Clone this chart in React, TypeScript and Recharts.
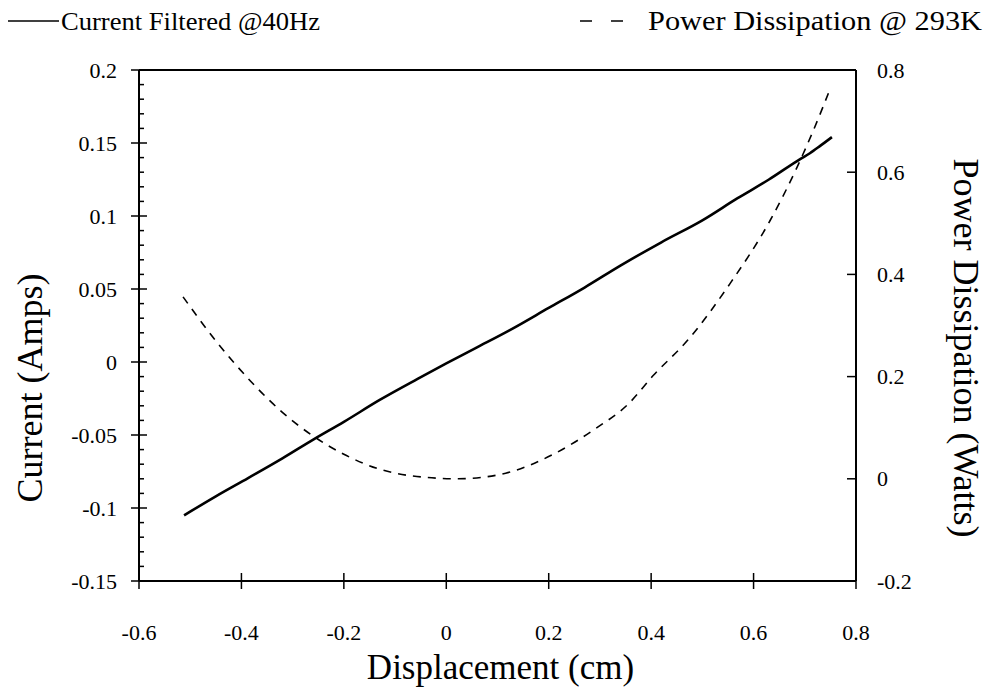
import React from 'react'
import { LineChart, Line, XAxis, YAxis } from 'recharts'

const FONT = '"Liberation Serif", "Times New Roman", serif'
const W = 982
const H = 685

// Current Filtered @40Hz (left axis)
const currentDisp = [-0.512, -0.45, -0.387, -0.32, -0.259, -0.2, -0.13, -0.056, 0, 0.06, 0.125, 0.2, 0.27, 0.34, 0.42, 0.5, 0.568, 0.63, 0.691, 0.71, 0.73, 0.753]
const currentAmps = [-0.105, -0.092, -0.0795, -0.066, -0.053, -0.041, -0.026, -0.0116, -0.001, 0.01, 0.022, 0.037, 0.051, 0.066, 0.082, 0.097, 0.112, 0.125, 0.139, 0.143, 0.148, 0.154]

// Power Dissipation @ 293K (right axis)
const powerDisp = [-0.514, -0.45, -0.382, -0.32, -0.259, -0.2, -0.134, -0.07, 0.024, 0.116, 0.209, 0.291, 0.355, 0.404, 0.472, 0.554, 0.632, 0.685, 0.716, 0.751]
const powerWatts = [0.356, 0.27, 0.191, 0.13, 0.083, 0.048, 0.02, 0.006, 0.0, 0.011, 0.048, 0.098, 0.146, 0.202, 0.272, 0.382, 0.505, 0.61, 0.68, 0.767]

const xTicks = [-0.6, -0.4, -0.2, 0, 0.2, 0.4, 0.6, 0.8]
const leftMajor = [-0.15, -0.1, -0.05, 0, 0.05, 0.1, 0.15, 0.2]
const rightTicks = [-0.2, 0, 0.2, 0.4, 0.6, 0.8]

// every 0.01 amp gets a small tick, every 0.05 a full one
const leftTicks = Array.from({ length: 36 }, (_, i) => Math.round((-0.15 + i * 0.01) * 100) / 100)

const currentData = currentDisp.map((x, i) => ({ x, y: currentAmps[i] }))
const powerData = powerDisp.map((x, i) => ({ x, y: powerWatts[i] }))

const isMajor = (v: number) => leftMajor.some((m) => Math.abs(m - v) < 1e-6)

const txt = { fontFamily: FONT, fill: '#000' }

function BottomTick({ x, y, payload }: any) {
  return (
    <g>
      <line x1={x} x2={x} y1={y - 8} y2={y + 8} stroke="#000" strokeWidth={1.5} />
      <text x={x} y={y + 51} textAnchor="middle" dominantBaseline="central" fontSize={22} style={txt}>
        {String(payload.value)}
      </text>
    </g>
  )
}

function TopTick({ x, y }: any) {
  return <line x1={x} x2={x} y1={y - 8} y2={y + 8} stroke="#000" strokeWidth={1.5} />
}

function LeftTick({ x, y, payload }: any) {
  if (!isMajor(payload.value)) {
    return <line x1={x} x2={x + 5} y1={y} y2={y} stroke="#000" strokeWidth={1.5} />
  }
  return (
    <g>
      <line x1={x - 8} x2={x + 8} y1={y} y2={y} stroke="#000" strokeWidth={1.5} />
      <text x={x - 22} y={y} textAnchor="end" dominantBaseline="central" fontSize={22} style={txt}>
        {String(payload.value)}
      </text>
    </g>
  )
}

function RightTick({ x, y, payload }: any) {
  return (
    <g>
      <line x1={x - 9} x2={x} y1={y} y2={y} stroke="#000" strokeWidth={1.5} />
      <text x={x + 21} y={y} textAnchor="start" dominantBaseline="central" fontSize={22} style={txt}>
        {String(payload.value)}
      </text>
    </g>
  )
}

function Legend() {
  return (
    <svg width={W} height={48} style={{ position: 'absolute', left: 0, top: -8 }}>
      <line x1={0} x2={51} y1={21} y2={21} stroke="#000" strokeWidth={1.5} />
      <text x={53} y={21} dominantBaseline="central" fontSize={26} textLength={259} lengthAdjust="spacingAndGlyphs" style={txt}>
        Current Filtered @40Hz
      </text>
      <line x1={572} x2={616} y1={21} y2={21} stroke="#000" strokeWidth={1.5} strokeDasharray="12 19" />
      <text x={640} y={21} dominantBaseline="central" fontSize={27} textLength={334} lengthAdjust="spacingAndGlyphs" style={txt}>
        Power Dissipation @ 293K
      </text>
    </svg>
  )
}

export default function App() {
  return (
    <div style={{ position: 'relative', width: W, height: H, fontFamily: FONT }}>
      <LineChart width={W} height={H} margin={{ top: 0, right: 0, bottom: 0, left: 0 }}>
        <XAxis
          xAxisId="bottom"
          type="number"
          dataKey="x"
          domain={[-0.6, 0.8]}
          ticks={xTicks}
          interval={0}
          height={112}
          tickSize={0}
          tickMargin={0}
          tickLine={false}
          tick={<BottomTick />}
          axisLine={{ stroke: '#000', strokeWidth: 2 }}
          label={{
            content: ({ viewBox }: any) => (
              <text x={viewBox.x + viewBox.width / 2 + 3} y={viewBox.y + 86} textAnchor="middle" dominantBaseline="central" fontSize={35} style={txt}>
                Displacement (cm)
              </text>
            ),
          }}
        />
        <XAxis
          xAxisId="top"
          orientation="top"
          type="number"
          domain={[-0.6, 0.8]}
          ticks={xTicks}
          interval={0}
          height={62}
          tickSize={0}
          tickMargin={0}
          tickLine={false}
          tick={<TopTick />}
          axisLine={{ stroke: '#000', strokeWidth: 2 }}
        />
        <YAxis
          yAxisId="current"
          type="number"
          domain={[-0.15, 0.2]}
          ticks={leftTicks}
          interval={0}
          width={131}
          tickSize={0}
          tickMargin={0}
          tickLine={false}
          tick={<LeftTick />}
          axisLine={{ stroke: '#000', strokeWidth: 2 }}
          label={{
            content: () => (
              <text x={22} y={380} transform="rotate(-90 22 380)" textAnchor="middle" dominantBaseline="central" fontSize={36} style={txt}>
                Current (Amps)
              </text>
            ),
          }}
        />
        <YAxis
          yAxisId="power"
          orientation="right"
          type="number"
          domain={[-0.2, 0.8]}
          ticks={rightTicks}
          interval={0}
          width={134}
          tickSize={0}
          tickMargin={0}
          tickLine={false}
          tick={<RightTick />}
          axisLine={{ stroke: '#000', strokeWidth: 2 }}
          label={{
            content: () => (
              <text x={958} y={340} transform="rotate(90 958 340)" textAnchor="middle" dominantBaseline="central" fontSize={36} style={txt}>
                Power Dissipation (Watts)
              </text>
            ),
          }}
        />
        <Line
          xAxisId="bottom"
          yAxisId="current"
          data={currentData}
          dataKey="y"
          type="monotone"
          stroke="#000"
          strokeWidth={2.6}
          dot={false}
          isAnimationActive={false}
        />
        <Line
          xAxisId="bottom"
          yAxisId="power"
          data={powerData}
          dataKey="y"
          type="monotone"
          stroke="#000"
          strokeWidth={1.6}
          strokeDasharray="8 7"
          dot={false}
          isAnimationActive={false}
        />
      </LineChart>
      <Legend />
    </div>
  )
}
